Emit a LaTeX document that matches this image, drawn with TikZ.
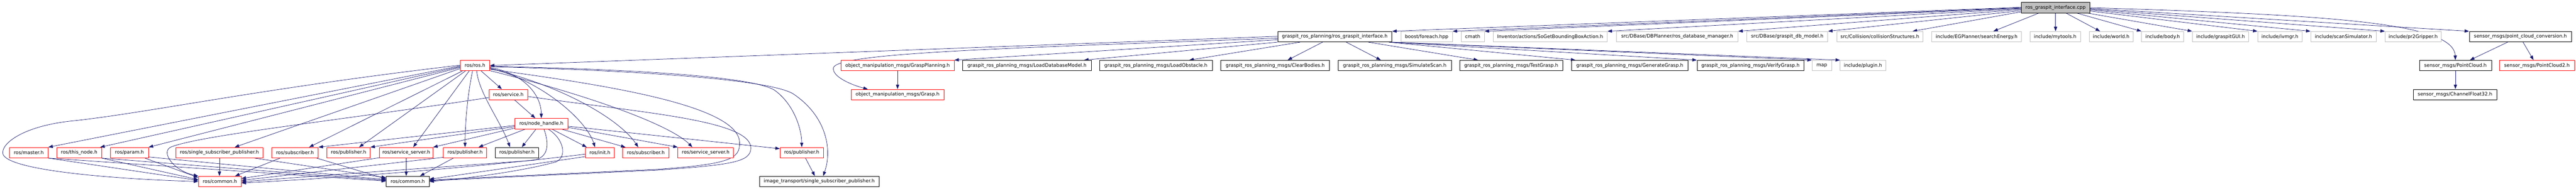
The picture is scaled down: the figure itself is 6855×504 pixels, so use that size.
\documentclass[tikz,border=0pt]{standalone}
\usepackage{fontspec}
\setmainfont{DejaVu Sans}
\usetikzlibrary{arrows.meta,calc,backgrounds}
\definecolor{edgec}{HTML}{191970}
\definecolor{grayc}{HTML}{BFBFBF}
\definecolor{redc}{HTML}{FF0000}
\newcommand\mkbox[6]{\node[#1,minimum width={(#4)-(#3)}] (#2) at ({((#3)+(#4))/2},#5) {#6};}
\tikzset{
 nbox/.style={rectangle, inner sep=0pt, minimum height=28pt, line width=1.1pt, font=\fontsize{12.7}{15}\selectfont, text=black},
 redb/.style={nbox, draw=redc, fill=white},
 blkb/.style={nbox, draw=black, fill=white},
 gryb/.style={nbox, draw=grayc, fill=white},
 rootb/.style={nbox, draw=black, fill=grayc},
 conn/.style={draw=edgec, line width=1pt, -{Triangle[length=12pt,width=8.5pt]}},
}
\begin{document}
\begin{tikzpicture}[x=1pt,y=-1pt]
\useasboundingbox (0,0) rectangle (6855,504);
% root
\mkbox{rootb}{root}{5379}{5561}{20.5}{ros\_graspit\_interface.cpp}
% row 1
\mkbox{blkb}{rgih}{3400}{3704}{98}{graspit\_ros\_planning/ros\_graspit\_interface.h}
\mkbox{gryb}{boost}{3728}{3865}{98}{boost/foreach.hpp}
\mkbox{gryb}{cmath}{3888}{3950}{98}{cmath}
\mkbox{gryb}{inv}{3973}{4277}{98}{Inventor/actions/SoGetBoundingBoxAction.h}
\mkbox{gryb}{dbm}{4301}{4625}{98}{src/DBase/DBPlanner/ros\_database\_manager.h}
\mkbox{gryb}{dbmod}{4648}{4864}{98}{src/DBase/graspit\_db\_model.h}
\mkbox{gryb}{coll}{4888}{5117}{98}{src/Collision/collisionStructures.h}
\mkbox{gryb}{search}{5141}{5379}{98}{include/EGPlanner/searchEnergy.h}
\mkbox{gryb}{mytools}{5402}{5536}{98}{include/mytools.h}
\mkbox{gryb}{world}{5560}{5676}{98}{include/world.h}
\mkbox{gryb}{body}{5699}{5811}{98}{include/body.h}
\mkbox{gryb}{gui}{5834}{5984}{98}{include/graspitGUI.h}
\mkbox{gryb}{ivmgr}{6008}{6126}{98}{include/ivmgr.h}
\mkbox{gryb}{scan}{6149}{6323}{98}{include/scanSimulator.h}
\mkbox{gryb}{pr2}{6347}{6496}{98}{include/pr2Gripper.h}
\mkbox{blkb}{pcc}{6571}{6843}{98}{sensor\_msgs/point\_cloud\_conversion.h}
% row 2
\mkbox{redb}{rosh}{1225}{1303}{175}{ros/ros.h}
\mkbox{redb}{gp}{2238}{2539}{175}{object\_manipulation\_msgs/GraspPlanning.h}
\mkbox{blkb}{ldm}{2562}{2904}{175}{graspit\_ros\_planning\_msgs/LoadDatabaseModel.h}
\mkbox{blkb}{lo}{2926}{3226}{175}{graspit\_ros\_planning\_msgs/LoadObstacle.h}
\mkbox{blkb}{cb}{3249}{3538}{175}{graspit\_ros\_planning\_msgs/ClearBodies.h}
\mkbox{blkb}{ss}{3561}{3862}{175}{graspit\_ros\_planning\_msgs/SimulateScan.h}
\mkbox{blkb}{tg}{3884}{4159}{175}{graspit\_ros\_planning\_msgs/TestGrasp.h}
\mkbox{blkb}{gg}{4182}{4492}{175}{graspit\_ros\_planning\_msgs/GenerateGrasp.h}
\mkbox{blkb}{vg}{4516}{4800}{175}{graspit\_ros\_planning\_msgs/VerifyGrasp.h}
\mkbox{gryb}{mapn}{4822}{4874}{175}{map}
\mkbox{gryb}{plugin}{4897}{5018}{175}{include/plugin.h}
\mkbox{blkb}{pc}{6438}{6630}{175}{sensor\_msgs/PointCloud.h}
\mkbox{redb}{pctwo}{6651}{6851}{175}{sensor\_msgs/PointCloud2.h}
% row 3
\mkbox{redb}{service}{1301}{1404}{252.5}{ros/service.h}
\mkbox{redb}{grasp}{2265}{2512}{252.5}{object\_manipulation\_msgs/Grasp.h}
\mkbox{blkb}{cf}{6422}{6644}{252.5}{sensor\_msgs/ChannelFloat32.h}
% row 4
\mkbox{redb}{nh}{1370}{1511}{330}{ros/node\_handle.h}
% row 5
\mkbox{redb}{master}{25}{128}{407.5}{ros/master.h}
\mkbox{redb}{thisnode}{151}{270}{407.5}{ros/this\_node.h}
\mkbox{redb}{param}{294}{395}{407.5}{ros/param.h}
\mkbox{redb}{ssp}{468}{700}{407.5}{ros/single\_subscriber\_publisher.h}
\mkbox{redb}{subA}{723}{847}{407.5}{ros/subscriber.h}
\mkbox{redb}{pubA}{870}{985}{407.5}{ros/publisher.h}
\mkbox{redb}{srvA}{1010}{1152}{407.5}{ros/service\_server.h}
\mkbox{redb}{pubB}{1180}{1295}{407.5}{ros/publisher.h}
\mkbox{blkb}{pubC}{1318}{1433}{407.5}{ros/publisher.h}
\mkbox{redb}{init}{1558}{1635}{407.5}{ros/init.h}
\mkbox{redb}{subB}{1657}{1780}{407.5}{ros/subscriber.h}
\mkbox{redb}{srvB}{1804}{1952}{407.5}{ros/service\_server.h}
\mkbox{redb}{pubD}{2076}{2191}{407.5}{ros/publisher.h}
% row 6
\mkbox{redb}{rc}{528}{642}{484.5}{ros/common.h}
\mkbox{blkb}{bc}{1028}{1142}{484.5}{ros/common.h}
\mkbox{blkb}{it}{2021}{2339}{484.5}{image\_transport/single\_subscriber\_publisher.h}

\begin{pgfonlayer}{background}
% root edges
\draw[conn] ($(root.west)+(0,-1)$) -- (rgih.north east);
\draw[conn] ($(root.west)+(0,0)$) -- (boost.north east);
\draw[conn] ($(root.west)+(0,1.5)$) -- (cmath.north east);
\draw[conn] ($(root.west)+(0,3)$) -- (inv.north east);
\draw[conn] ($(root.west)+(0,5)$) -- (dbm.north east);
\draw[conn] ($(root.west)+(0,8)$) -- (dbmod.north east);
\draw[conn] ($(root.west)+(0,11)$) -- ($(coll.north east)+(-28,0)$);
\draw[conn] ($(root.south west)+(47,0)$) -- ($(search.north east)+(-75,0)$);
\draw[conn] (root.south) -- (root.south |- mytools.north);
\draw[conn] ($(root.south)+(28,0)$) -- ($(world.north west)+(29,0)$);
\draw[conn] ($(root.south east)+(-35,0)$) -- (body.north west);
\draw[conn] ($(root.south east)+(-6,0)$) -- (gui.north west);
\draw[conn] ($(root.east)+(0,9)$) -- (ivmgr.north west);
\draw[conn] ($(root.east)+(0,6)$) -- (scan.north west);
\draw[conn] ($(root.east)+(0,4)$) -- (pr2.north west);
\draw[conn] ($(root.east)+(0,2)$) -- (pcc.north west);
\draw[conn] ($(root.east)+(0,0)$) .. controls (6200,40) and (6530,60) .. (pc.north);
% rgih edges
\draw[conn] ($(rgih.west)+(0,-1)$) -- (rosh.east);
\draw[conn] ($(rgih.west)+(0,4)$) .. controls (2700,128) and (2235,140) .. (2218,180) .. controls (2212,205) and (2270,228) .. ($(grasp.north west)+(45,0)$);
\draw[conn] ($(rgih.west)+(0,8)$) -- (gp.north east);
\draw[conn] (rgih.south west) -- ($(ldm.north east)+(-20,0)$);
\draw[conn] ($(rgih.south west)+(60,0)$) -- ($(lo.north east)+(-62,0)$);
\draw[conn] ($(rgih.south west)+(120,0)$) -- ($(cb.north west)+(178,0)$);
\draw[conn] ($(rgih.south west)+(183,0)$) -- ($(ss.north west)+(114,0)$);
\draw[conn] ($(rgih.south west)+(242,0)$) -- ($(tg.north west)+(50,0)$);
\draw[conn] ($(rgih.south east)+(-9,0)$) -- ($(gg.north west)+(11,0)$);
\draw[conn] ($(rgih.south east)+(-6,0)$) -- (vg.north west);
\draw[conn] ($(rgih.south east)+(-3,0)$) -- (mapn.north west);
\draw[conn] (rgih.south east) -- (plugin.north west);
\draw[conn] (gp.south) -- (grasp.north);
% sensor msgs
\draw[conn] ($(pcc.south)+(-34,0)$) -- ($(pc.north east)+(-58,0)$);
\draw[conn] ($(pcc.south)+(7,0)$) -- ($(pctwo.north)+(-9,0)$);
\draw[conn] (pc.south) -- (pc.south |- cf.north);
% ros.h edges
\draw[conn] ($(rosh.west)+(0,-1)$) .. controls (700,235) and (400,300) .. (200,322) .. controls (60,335) and (0,385) .. (8,412) .. controls (25,455) and (300,478) .. (rc.west);
\draw[conn] ($(rosh.west)+(0,1)$) -- (master.north east);
\draw[conn] ($(rosh.west)+(0,3)$) -- ($(thisnode.north east)+(-4,0)$);
\draw[conn] ($(rosh.west)+(0,5)$) -- (param.north east);
\draw[conn] ($(rosh.west)+(0,8)$) -- ($(ssp.north west)+(157,0)$);
\draw[conn] ($(rosh.south west)+(6,0)$) -- ($(subA.north east)+(-25,0)$);
\draw[conn] ($(rosh.south west)+(14,0)$) -- ($(pubA.north east)+(-30,0)$);
\draw[conn] ($(rosh.south west)+(24,0)$) -- ($(srvA.north east)+(-53,0)$);
\draw[conn] ($(rosh.south west)+(33,0)$) .. controls (1245,250) and (1238,320) .. (pubB.north);
\draw[conn] ($(rosh.south west)+(44,0)$) .. controls (1275,250) and (1330,320) .. ($(pubC.north west)+(40,0)$);
\draw[conn] ($(rosh.south west)+(56,0)$) -- ($(service.north west)+(35,0)$);
\draw[conn] ($(rosh.east)+(0,5)$) .. controls (1390,195) and (1440,250) .. (nh.north);
\draw[conn] ($(rosh.east)+(0,7)$) .. controls (1440,215) and (1560,320) .. ($(init.north west)+(26,0)$);
\draw[conn] ($(rosh.east)+(0,8)$) .. controls (1500,230) and (1650,320) .. ($(subB.north west)+(42,0)$);
\draw[conn] ($(rosh.south east)+(0,-1)$) .. controls (1550,250) and (1780,330) .. ($(srvB.north west)+(39,0)$);
\draw[conn] ($(rosh.east)+(0,2)$) .. controls (1700,185) and (2000,205) .. (2060,240) .. controls (2110,275) and (2133,340) .. (pubD.north);
\draw[conn] ($(rosh.east)+(0,3)$) .. controls (1750,190) and (2050,215) .. (2110,250) .. controls (2200,310) and (2215,400) .. ($(it.north west)+(170,0)$);
\draw[conn] ($(rosh.east)+(0,10)$) .. controls (1600,225) and (1965,280) .. (1968,380) .. controls (1970,425) and (1940,438) .. (1750,452) -- ($(bc.east)+(0,-4)$);
% service edges
\draw[conn] ($(service.east)+(0,5)$) .. controls (1700,300) and (1998,320) .. (1998,395) .. controls (1998,432) and (1950,440) .. (1750,454) -- ($(bc.east)+(0,-2)$);
\draw[conn] ($(service.west)+(0,8)$) .. controls (900,322) and (540,360) .. (456,392) .. controls (426,404) and (460,455) .. (rc.north west);
\draw[conn] ($(service.south east)+(-35,0)$) -- ($(nh.north west)+(55,0)$);
% node_handle edges
\draw[conn] ($(nh.west)+(0,5)$) -- (subA.north east);
\draw[conn] ($(nh.west)+(0,8)$) -- (pubA.north east);
\draw[conn] ($(nh.west)+(0,12)$) -- (srvA.north east);
\draw[conn] ($(nh.south west)+(29,0)$) -- ($(pubB.north east)+(-22,0)$);
\draw[conn] ($(nh.south west)+(57,0)$) -- ($(pubC.north east)+(-45,0)$);
\draw[conn] ($(nh.south)+(28,0)$) -- ($(init.north west)+(4,0)$);
\draw[conn] ($(nh.south east)+(-18,0)$) -- ($(subB.north west)+(8,0)$);
\draw[conn] ($(nh.east)+(0,10)$) -- (srvB.north west);
\draw[conn] ($(nh.east)+(0,7)$) -- ($(pubD.north west)+(0,4)$);
\draw[conn] ($(nh.south)+(7,0)$) .. controls (1462,385) and (1460,420) .. (1420,428) .. controls (1150,448) and (800,472) .. ($(rc.east)+(0,1)$);
\draw[conn] ($(nh.south)+(18,0)$) .. controls (1500,370) and (1510,418) .. (1480,432) .. controls (1400,455) and (1250,476) .. (bc.east);
% init edges
\draw[conn] ($(init.west)+(0,4)$) .. controls (1350,437) and (1000,470) .. ($(rc.east)+(0,4)$);
\draw[conn] ($(init.south west)+(0,-4)$) -- ($(bc.east)+(0,-6)$);
% publisher edges
\draw[conn] ($(pubB.south west)+(0,-2)$) -- ($(rc.east)+(0,-3)$);
\draw[conn] ($(pubB.south west)+(27,0)$) -- ($(bc.north east)+(-25,0)$);
\draw[conn] ($(pubD.south)+(10,0)$) -- ($(it.north west)+(148,0)$);
% service_server
\draw[conn] ($(srvA.south west)+(0,-1)$) -- ($(rc.east)+(0,-8)$);
\draw[conn] (srvA.south) -- (srvA.south |- bc.north);
% subscriber
\draw[conn] ($(subA.south west)+(23,0)$) -- ($(rc.north east)+(-17,0)$);
\draw[conn] ($(subA.south east)+(-5,0)$) -- ($(bc.west)+(0,-7)$);
% single_subscriber_publisher
\draw[conn] (ssp.south) -- (ssp.south |- rc.north);
\draw[conn] ($(ssp.south east)+(-23,0)$) -- ($(bc.west)+(0,-10)$);
% master, this_node, param
\draw[conn] (master.south east) -- ($(rc.west)+(0,-3)$);
\draw[conn] (master.south east) -- ($(bc.west)+(0,-1)$);
\draw[conn] (thisnode.south east) -- ($(rc.west)+(0,-5)$);
\draw[conn] (thisnode.south east) -- ($(bc.west)+(0,-3)$);
\draw[conn] ($(param.south east)+(-10,0)$) -- ($(rc.north west)+(0,4)$);
\draw[conn] ($(param.south east)+(0,-3)$) -- ($(bc.west)+(0,-5)$);
\end{pgfonlayer}
\end{tikzpicture}
\end{document}
